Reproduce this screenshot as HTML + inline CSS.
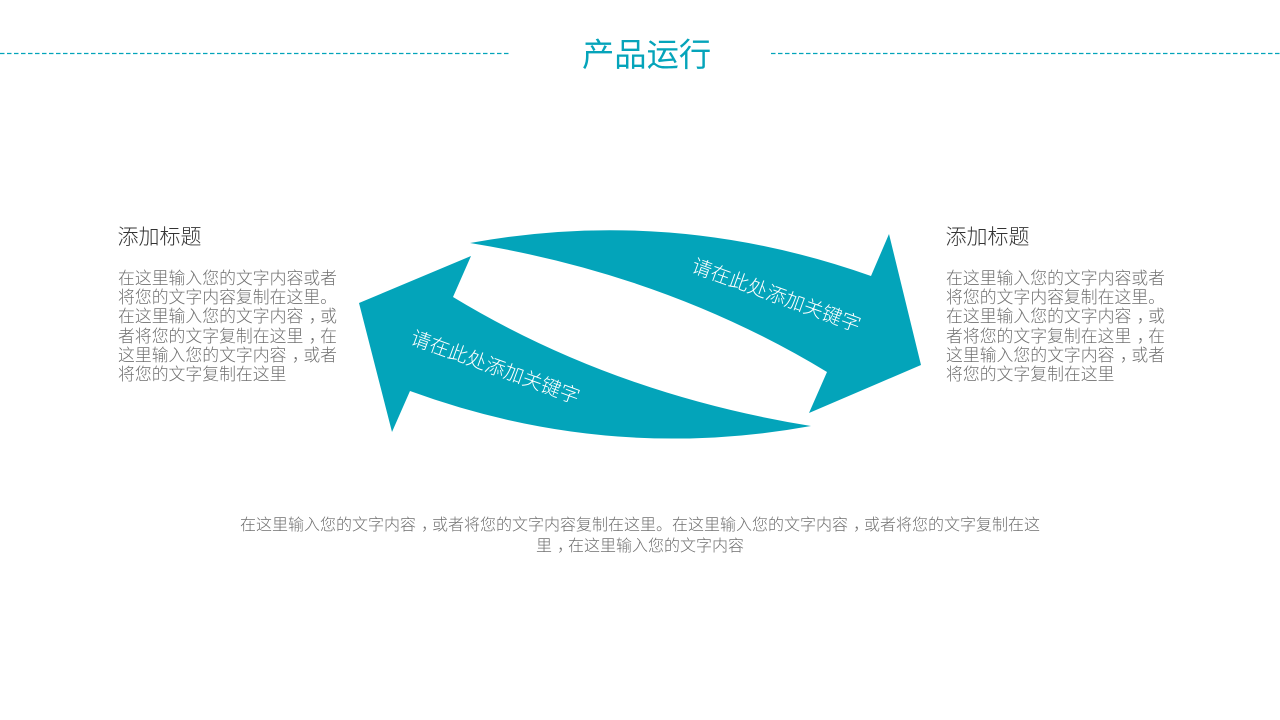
<!DOCTYPE html>
<html lang="zh">
<head>
<meta charset="utf-8">
<title>产品运行</title>
<style>
html,body{margin:0;padding:0;background:#fff;}
#s{position:relative;width:1280px;height:720px;overflow:hidden;background:#fff;font-family:"Liberation Sans","Noto Sans CJK SC",sans-serif;font-weight:300;}
.t{position:absolute;white-space:nowrap;}
.title{left:582px;top:32px;font-size:32.3px;line-height:46px;color:#05a4ba;font-weight:400;}
.h{font-size:21px;line-height:30px;color:#333;top:223px;}
.b{font-size:16.85px;line-height:19.2px;color:#707070;top:269px;}
.c{left:200px;width:880px;text-align:center;font-size:16px;line-height:20.6px;color:#707070;top:516px;}
.k{font-size:19.8px;line-height:26px;color:#fff;transform:translate(-50%,-50%) rotate(20deg);}
i{font-style:normal;position:relative;left:.32em;}
svg{position:absolute;left:0;top:0;}
</style>
</head>
<body>
<div id="s">
<svg width="1280" height="720" viewBox="0 0 1280 720">
<line x1="0" y1="53.5" x2="509" y2="53.5" stroke="#03a4ba" stroke-width="1.2" stroke-dasharray="4.5 2.5"/>
<line x1="771" y1="53.5" x2="1280" y2="53.5" stroke="#03a4ba" stroke-width="1.2" stroke-dasharray="4.5 2.5"/>
<path fill="#03a4ba" d="M470 243 Q673 206 871 276 L889 234 L921 365 L809 413 L827 372 Q667 275 470 243 Z"/>
<path fill="#03a4ba" d="M811 426 Q607 463 410 391 L392 432 L359 303 L471 256 L453 297 Q613 394 811 426 Z"/>
</svg>
<div class="t title">产品运行</div>
<div class="t h" style="left:117.5px">添加标题</div>
<div class="t b" style="left:118px">在这里输入您的文字内容或者<br>将您的文字内容复制在这里。<br>在这里输入您的文字内容<i>，</i>或<br>者将您的文字复制在这里<i>，</i>在<br>这里输入您的文字内容<i>，</i>或者<br>将您的文字复制在这里</div>
<div class="t h" style="left:945.5px">添加标题</div>
<div class="t b" style="left:946px">在这里输入您的文字内容或者<br>将您的文字内容复制在这里。<br>在这里输入您的文字内容<i>，</i>或<br>者将您的文字复制在这里<i>，</i>在<br>这里输入您的文字内容<i>，</i>或者<br>将您的文字复制在这里</div>
<div class="t k" style="left:775.5px;top:296px">请在此处添加关键字</div>
<div class="t k" style="left:495px;top:368px">请在此处添加关键字</div>
<div class="t c">在这里输入您的文字内容<i>，</i>或者将您的文字内容复制在这里。在这里输入您的文字内容<i>，</i>或者将您的文字复制在这<br>里<i>，</i>在这里输入您的文字内容</div>
</div>
</body>
</html>
